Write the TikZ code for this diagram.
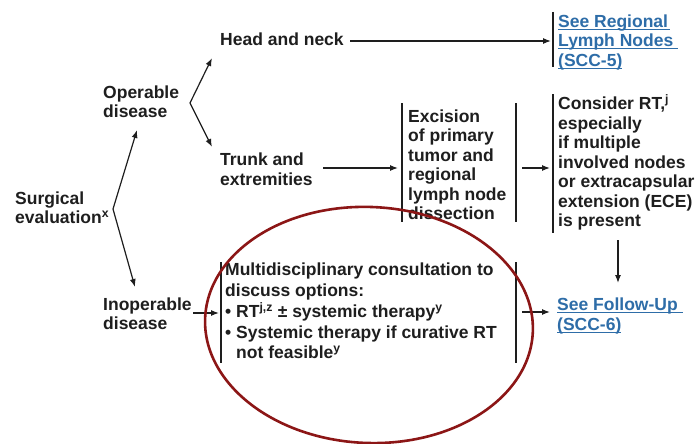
\documentclass[tikz,border=0pt]{standalone}
\usepackage{fontspec}
\setmainfont{Liberation Sans}
\usetikzlibrary{arrows.meta}
\definecolor{txt}{HTML}{1E1E1E}
\definecolor{link}{HTML}{2E6DA8}
\definecolor{ring}{HTML}{8C1616}
\newcommand{\supr}[1]{\textsuperscript{\smash{#1}}}
\newcommand{\lnk}[1]{\setbox0\hbox{#1}\rlap{\rule[-2.6pt]{\wd0}{1.3pt}}\box0}
\begin{document}
\begin{tikzpicture}[x=1pt,y=-1pt,
  lbl/.style={anchor=north west, inner sep=0pt, align=left, text=txt,
    font=\fontsize{17.5}{19.5}\selectfont\bfseries},
  linklbl/.style={lbl, text=link},
  conn/.style={draw=txt, line width=1.2pt, -{Latex[length=8pt,width=6pt]}},
  bar/.style={draw=txt, line width=1.6pt},
  ring/.style={draw=ring, line width=2.6pt}]
\useasboundingbox[fill=white] (0,0) rectangle (696,444);

% text nodes
\node[lbl] (head) at (220,32.2) {Head and neck};
\node[lbl] (oper) at (103,85.5) {Operable\\disease};
\node[lbl] (trunk) at (220,153) {Trunk and\\extremities};
\node[lbl] (surg) at (15,191.5) {Surgical\\evaluation\supr{x}};
\node[lbl] (inop) at (103,297.5) {Inoperable\\disease};
\node[lbl] (exc) at (408,109.5) {Excision\\of primary\\tumor and\\regional\\lymph node\\dissection};
\node[lbl] (cons) at (558,97) {Consider RT,\supr{j}\\especially\\if multiple\\involved nodes\\or extracapsular\\extension (ECE)\\is present};
\node[lbl, font=\fontsize{17.5}{20.75}\selectfont\bfseries] (multi) at (225,263)
  {Multidisciplinary consultation to\\discuss options:\\• RT\supr{j,z} ± systemic therapy\supr{y}\\• Systemic therapy if curative RT\\\hphantom{• }not feasible\supr{y}};
\node[linklbl] (reg) at (558,14.5) {\lnk{See Regional\kern2pt}\\\lnk{Lymph Nodes\kern5pt}\\\lnk{(SCC-5)}};
\node[linklbl] (fol) at (557,298) {\lnk{See Follow-Up\kern5pt}\\\lnk{(SCC-6)}};

% bars (bracket sides)
\coordinate (regT) at (553,12);   \coordinate (regB) at (553,67);
\coordinate (excLT) at (402,103); \coordinate (excLB) at (402,222);
\coordinate (excRT) at (516,103); \coordinate (excRB) at (516,222);
\coordinate (conT) at (553,94);   \coordinate (conB) at (553,233);
\coordinate (mulLT) at (221,262); \coordinate (mulLB) at (221,363);
\coordinate (mulRT) at (516,262); \coordinate (mulRB) at (516,363);
\draw[bar] (regT) -- (regB);
\draw[bar] (excLT) -- (excLB);
\draw[bar] (excRT) -- (excRB);
\draw[bar] (conT) -- (conB);
\draw[bar] (mulLT) -- (mulLB);
\draw[bar] (mulRT) -- (mulRB);

% branch points and arrow ends
\coordinate (sv) at (113,209);
\coordinate (svU) at (137,130);
\coordinate (svD) at (135,287);
\coordinate (ov) at (190,103);
\coordinate (ovU) at (212,58);
\coordinate (ovD) at (212,147);
\coordinate (hA) at (350,41);  \coordinate (hB) at (551,41);
\coordinate (tA) at (323,168); \coordinate (tB) at (398,168);
\coordinate (eA) at (522,168); \coordinate (eB) at (550,168);
\coordinate (cA) at (618,240); \coordinate (cB) at (618,283);
\coordinate (mA) at (522,312); \coordinate (mB) at (550,312);
\coordinate (iA) at (193,313); \coordinate (iB) at (219,313);

\draw[conn] (sv) -- (svU);
\draw[conn] (sv) -- (svD);
\draw[conn] (ov) -- (ovU);
\draw[conn] (ov) -- (ovD);
\draw[conn] (hA) -- (hB);
\draw[conn] (tA) -- (tB);
\draw[conn] (eA) -- (eB);
\draw[conn] (cA) -- (cB);
\draw[conn] (mA) -- (mB);
\draw[conn] (iA) -- (iB);

% highlight ellipse
\coordinate (ec) at (369,325);
\draw[ring, rotate around={-2.5:(ec)}] (ec) ellipse [x radius=164, y radius=118];
\end{tikzpicture}
\end{document}
